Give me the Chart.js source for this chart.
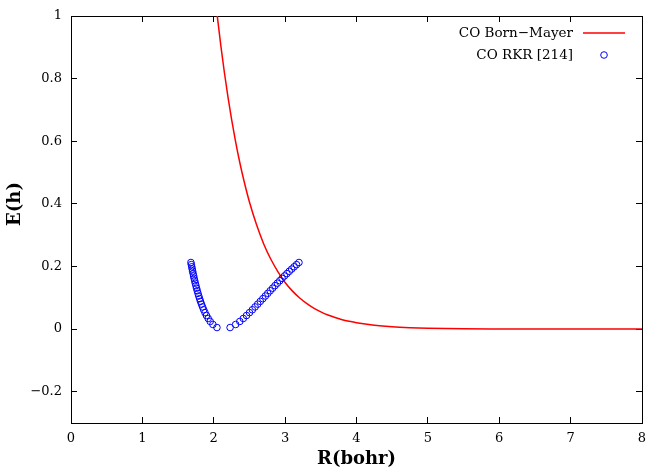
<!DOCTYPE html>
<html>
<head>
<meta charset="utf-8">
<script src="https://cdn.jsdelivr.net/npm/chart.js@4.4.0/dist/chart.umd.min.js"></script>
<style>
  body { margin: 0; background: #fff; }
  #box { width: 648px; height: 470px; }
</style>
</head>
<body>
<div id="box"><canvas id="grafica"></canvas></div>
<script>
// CO Born-Mayer curve
var bmR = [2.0, 2.05, 2.1, 2.15, 2.2, 2.25, 2.3, 2.35, 2.4, 2.45, 2.5, 2.6, 2.7, 2.8, 2.9, 3.0,
           3.1, 3.2, 3.3, 3.4, 3.5, 3.6, 3.7, 3.8, 3.9, 4.0, 4.25, 4.5, 4.75, 5.0, 5.5, 6.0, 6.5, 7.0, 8.0];
var bmE = [1.104, 0.999, 0.904, 0.818, 0.740, 0.670, 0.606, 0.548, 0.496, 0.449, 0.406, 0.333, 0.272, 0.223, 0.183, 0.149,
           0.122, 0.100, 0.082, 0.067, 0.055, 0.045, 0.037, 0.030, 0.0247, 0.0202, 0.0123, 0.0074, 0.0045, 0.0027, 0.0010, 0.0004, 0.00014, 0.00005, 0.000007];

// CO RKR turning points (one energy level per entry)
var rkrE = [0.00493, 0.01469, 0.02434, 0.03386, 0.04326, 0.05255, 0.06171, 0.07074, 0.07966, 0.08846,
            0.09713, 0.10569, 0.11412, 0.12243, 0.13062, 0.13869, 0.14664, 0.15446, 0.16217, 0.16975,
            0.17722, 0.18456, 0.19178, 0.19888, 0.20586, 0.21271];
var rkrRmin = [2.045, 1.988, 1.950, 1.922, 1.898, 1.877, 1.859, 1.843, 1.828, 1.814,
               1.802, 1.790, 1.779, 1.769, 1.759, 1.750, 1.741, 1.733, 1.725, 1.718,
               1.711, 1.704, 1.698, 1.692, 1.686, 1.680];
var rkrRmax = [2.229, 2.307, 2.365, 2.414, 2.459, 2.501, 2.541, 2.579, 2.616, 2.652,
               2.688, 2.723, 2.757, 2.791, 2.825, 2.858, 2.892, 2.925, 2.958, 2.991,
               3.025, 3.058, 3.092, 3.126, 3.160, 3.194];

var xTicks = [0, 1, 2, 3, 4, 5, 6, 7, 8];
var yTicks = [-0.2, 0, 0.2, 0.4, 0.6, 0.8, 1];

var fuente = "'DejaVu Serif', serif";

var puntosBM = bmR.map(function (r, i) { return { x: r, y: bmE[i] }; });
var puntosRKR = [];
rkrE.forEach(function (e, i) {
    puntosRKR.push({ x: rkrRmin[i], y: e });
    puntosRKR.push({ x: rkrRmax[i], y: e });
});

function etiqueta(v) {
    var s = (Math.round(v) === v) ? String(v) : v.toFixed(1);
    return s.replace('-', '\u2212');
}

// ejes con marcas hacia dentro (tickLength negativo) y borde negro
function eje(pos, min, max, lista, conEtiquetas, tamano) {
    var horizontal = (pos === 'top' || pos === 'bottom');
    return {
        type: 'linear',
        position: pos,
        min: min,
        max: max,
        display: true,
        grid: { display: true, drawOnChartArea: false, drawTicks: true, tickLength: -6, color: '#000', lineWidth: 1 },
        border: { display: true, color: '#000', width: 1 },
        afterBuildTicks: function (s) { s.ticks = lista.map(function (v) { return { value: v }; }); },
        afterFit: function (s) {
            if (horizontal) { s.height = tamano; s.paddingLeft = 0; s.paddingRight = 0; }
            else { s.width = tamano; s.paddingTop = 0; s.paddingBottom = 0; }
        },
        ticks: {
            display: conEtiquetas,
            padding: horizontal ? 14 : 15,
            color: '#000',
            font: { family: fuente, size: 13 },
            callback: function (v) { return etiqueta(v); }
        }
    };
}

var escalaX = eje('bottom', 0, 8, xTicks, true, 47);
escalaX.title = {
    display: true,
    text: 'R(bohr)',
    color: '#000',
    padding: 0,
    font: { family: fuente, size: 18, weight: 'bold' }
};
var escalaY = eje('left', -0.3, 1, yTicks, true, 71);
var escalaX2 = eje('top', 0, 8, xTicks, false, 0);
var escalaY2 = eje('right', -0.3, 1, yTicks, false, 0);

// titulo del eje y y leyenda estilo gnuplot
var leyenda = {
    id: 'leyenda',
    afterDraw: function (chart) {
        var c = chart.ctx;
        var a = chart.chartArea;
        c.save();
        c.fillStyle = '#000';
        c.font = 'bold 18px ' + fuente;
        c.textAlign = 'center';
        c.textBaseline = 'middle';
        c.translate(15, 204);
        c.rotate(-Math.PI / 2);
        c.fillText('E(h)', 0, 0);
        c.setTransform(1, 0, 0, 1, 0, 0);

        c.font = '13.5px ' + fuente;
        c.textAlign = 'right';
        chart.data.datasets.forEach(function (ds, i) {
            var y = a.top + 17 + i * 22;
            c.fillStyle = '#000';
            c.fillText(ds.label, a.right - 69, y);
            c.strokeStyle = ds.borderColor;
            c.lineWidth = ds.borderWidth;
            c.beginPath();
            if (ds.showLine) {
                c.moveTo(a.right - 59, y);
                c.lineTo(a.right - 17, y);
            } else {
                c.arc(a.right - 38, y, ds.pointRadius, 0, Math.PI * 2);
            }
            c.stroke();
        });
        c.restore();
    }
};

var lienzo = document.getElementById('grafica');
var grafica = new Chart(lienzo, {
    type: 'scatter',
    data: {
        datasets: [{
            label: 'CO Born\u2212Mayer',
            data: puntosBM,
            showLine: true,
            borderColor: '#ff0000',
            borderWidth: 1.5,
            pointRadius: 0,
            cubicInterpolationMode: 'monotone',
            order: 1
        }, {
            label: 'CO RKR [214]',
            data: puntosRKR,
            showLine: false,
            borderColor: '#0000ff',
            backgroundColor: 'rgba(0,0,0,0)',
            borderWidth: 1,
            pointRadius: 3.3,
            order: 0
        }]
    },
    options: {
        responsive: true,
        maintainAspectRatio: false,
        animation: false,
        layout: { padding: { top: 16, right: 6, left: 0, bottom: 0 } },
        plugins: {
            legend: { display: false },
            tooltip: { enabled: false }
        },
        scales: {
            x: escalaX,
            y: escalaY,
            x2: escalaX2,
            y2: escalaY2
        }
    },
    plugins: [leyenda]
});
</script>
</body>
</html>
